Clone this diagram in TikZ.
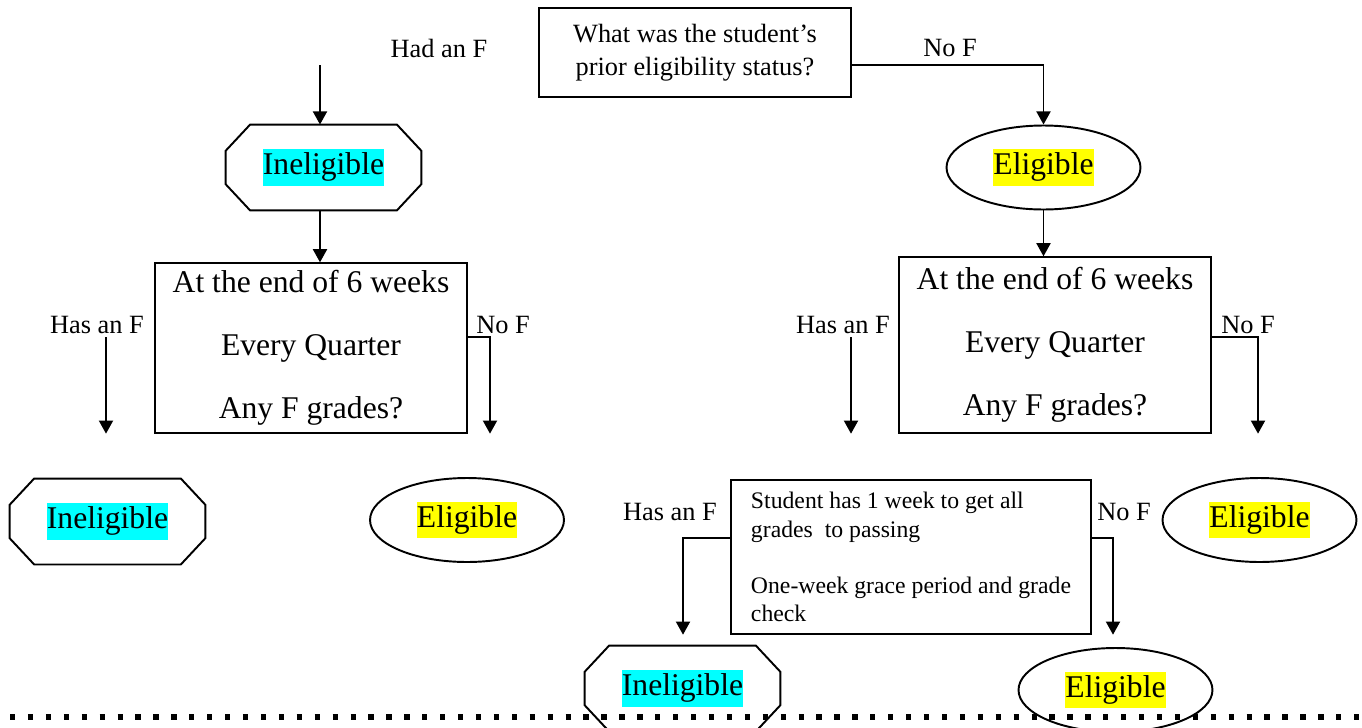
\documentclass[tikz,border=0pt]{standalone}
\usepackage{fontspec}
\setmainfont{Liberation Serif}
\usetikzlibrary{shapes.geometric,arrows.meta}
\definecolor{hlcyan}{RGB}{0,255,255}
\definecolor{hlyellow}{RGB}{255,255,0}
\newcommand{\marker}[2]{{\setlength{\fboxsep}{0pt}\colorbox{#1}{\strut #2}}}

\begin{document}
\begin{tikzpicture}[x=0.02cm, y=-0.02cm,
	status/.style={line width=1.1pt, inner sep=0pt, minimum width=3.88cm, minimum height=1.68cm, font=\fontsize{18}{21}\selectfont},
	nogo/.style={status, rectangle},
	okay/.style={status, draw, ellipse},
	check/.style={draw, line width=0.8pt, inner sep=0pt, align=center, minimum width=6.24cm, font=\fontsize{18}{36}\selectfont},
	lbl/.style={font=\fontsize{15}{18}\selectfont},
	arr/.style={-{Triangle[width=8pt,length=7.5pt]}, line width=1.1pt}]
	
	\useasboundingbox (0,0) rectangle (1362,727);
	\clip (0,0) rectangle (1362,727);
	
	\node[draw, line width=0.8pt, align=center, minimum width=6.24cm, minimum height=1.78cm, font=\fontsize{15}{19}\selectfont] (prior) at (695,52.5) {What was the student's\\prior eligibility status?};
	
	\node[nogo] (inel1) at (323.5,167.5) {\marker{hlcyan}{Ineligible}};
	\node[okay] (elig1) at (1043.5,167.5) {\marker{hlyellow}{Eligible}};
	
	\node[check, minimum height=3.4cm] (check1) at (311,348) {At the end of 6 weeks\\Every Quarter\\Any F grades?};
	\node[check, minimum height=3.52cm] (check2) at (1055,345) {At the end of 6 weeks\\Every Quarter\\Any F grades?};
	
	\node[nogo] (inel2) at (107.5,521.5) {\marker{hlcyan}{Ineligible}\hspace{12pt}};
	\node[okay] (elig2) at (467,520) {\marker{hlyellow}{Eligible}};
	\node[okay] (elig3) at (1259.5,520) {\marker{hlyellow}{Eligible}};
	
	\node[draw, line width=0.8pt, inner sep=0pt, align=left, minimum width=7.2cm, minimum height=3.08cm, font=\fontsize{13.5}{16}\selectfont] (grace) at (911,557) {Student has 1 week to get all\\grades~ to passing\\[16pt]One-week grace period and grade\\check};
	
	\node[nogo] (inel3) at (682.5,688.5) {\marker{hlcyan}{Ineligible}};
	\node[okay] (elig4) at (1115.5,690) {\marker{hlyellow}{Eligible}};
	
	\foreach \n in {inel1,inel2,inel3}
		\draw[line width=1.1pt] ([xshift=14pt]\n.north west) -- ([xshift=-14pt]\n.north east) -- ([yshift=-15pt]\n.north east) -- ([yshift=15pt]\n.south east) -- ([xshift=-14pt]\n.south east) -- ([xshift=14pt]\n.south west) -- ([yshift=15pt]\n.south west) -- ([yshift=-15pt]\n.north west) -- cycle;
	
	\node[lbl] (hadF) at (439,48) {Had an F};
	\node[lbl] (noF0) at (950,48) {No F};
	\node[lbl] (hasF1) at (97,325) {Has an F};
	\node[lbl] (noF1) at (503,325) {No F};
	\node[lbl] (hasF2) at (843,325) {Has an F};
	\node[lbl] (noF2) at (1248,325) {No F};
	\node[lbl] (hasF3) at (670,512) {Has an F};
	\node[lbl] (noF3) at (1124,512) {No F};
	
	\coordinate (startF) at (320,65);
	\coordinate (turn0) at (1043.5,65);
	\coordinate (yes1) at (106,337);
	\coordinate (no1) at (490,337);
	\coordinate (yes2) at (851,337);
	\coordinate (no2) at (1258,337);
	\coordinate (yes3) at (683,538);
	\coordinate (no3) at (1113,538);
	
	\draw[arr] (startF) -- (startF |- inel1.north);
	\draw[arr] (prior.east |- turn0) -- (turn0) -- (elig1.north);
	\draw[arr] (inel1.south -| startF) -- (startF |- check1.north);
	\draw[arr] (elig1.south) -- (elig1.south |- check2.north);
	
	\draw[arr] (yes1) -- (yes1 |- check1.south);
	\draw[arr] (check1.east |- no1) -- (no1) -- (no1 |- check1.south);
	\draw[arr] (yes2) -- (yes2 |- check2.south);
	\draw[arr] (check2.east |- no2) -- (no2) -- (no2 |- check2.south);
	
	\draw[arr] (grace.west |- yes3) -- (yes3) -- (yes3 |- grace.south);
	\draw[arr] (grace.east |- no3) -- (no3) -- (no3 |- grace.south);
	
	\draw[line width=3pt, dash pattern=on 3pt off 7.2pt] (10,717) -- (1362,717);
	
\end{tikzpicture}
\end{document}
